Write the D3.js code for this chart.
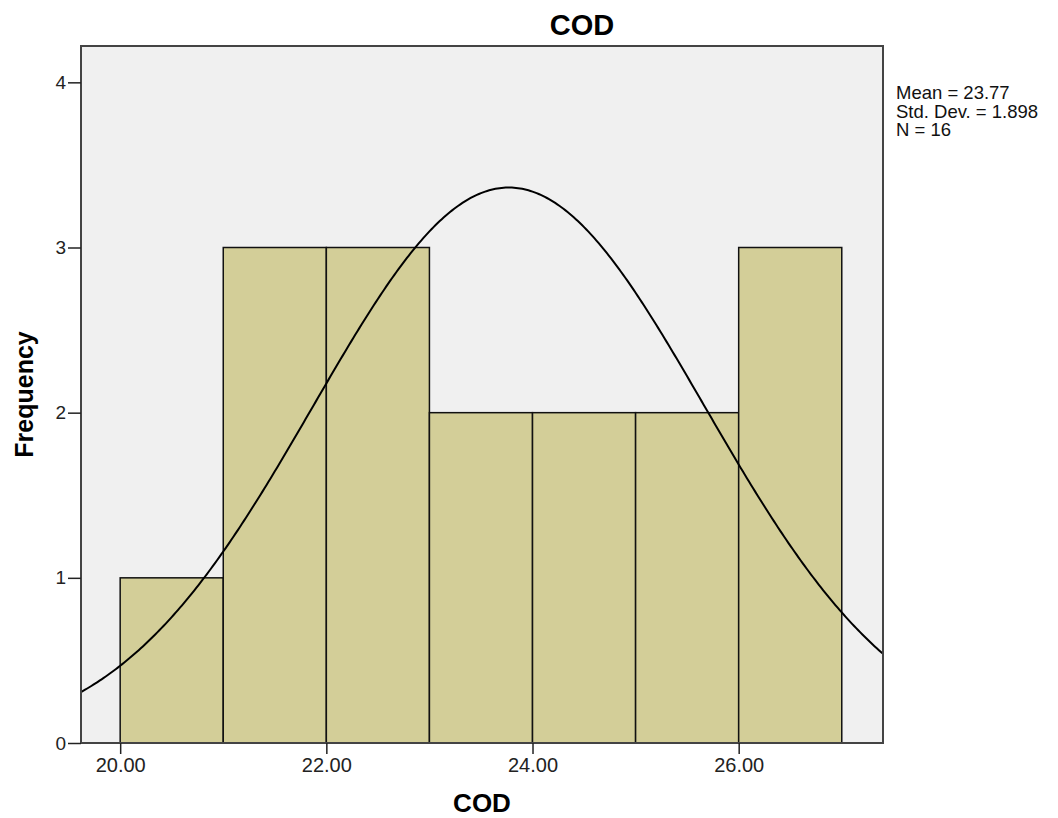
<!DOCTYPE html>
<html>
<head>
<meta charset="utf-8">
<script src="https://cdn.jsdelivr.net/npm/d3@7"></script>
<style>
  body { margin: 0; background: #fff; }
  text { font-family: "Liberation Sans", Arial, sans-serif; }
</style>
</head>
<body>
<svg id="chart" width="1058" height="818"></svg>
<script>
// histogram bins (lower edge) and counts
const binStarts = [20, 21, 22, 23, 24, 25, 26];
const counts = [1, 3, 3, 2, 2, 2, 3];
const binWidth = 1;
const xTicks = [20, 22, 24, 26];
const yTicks = [0, 1, 2, 3, 4];
const mean = 23.77;
const sd = 1.898;
const n = 16;
const statLines = ["Mean = 23.77", "Std. Dev. = 1.898", "N = 16"];

const svg = d3.select("#chart");
const margin = { top: 46, left: 81, right: 175, bottom: 75 };
const W = 1058, H = 818;

const x = d3.scaleLinear().domain([19.62, 27.40]).range([margin.left, W - margin.right]);
const y = d3.scaleLinear().domain([0, 4.22]).range([H - margin.bottom, margin.top]);

const clipId = "plotclip";
svg.append("clipPath").attr("id", clipId)
  .append("rect")
  .attr("x", x.range()[0]).attr("y", y.range()[1])
  .attr("width", x.range()[1] - x.range()[0])
  .attr("height", y.range()[0] - y.range()[1]);

// plot background
svg.append("rect")
  .attr("x", x.range()[0]).attr("y", y.range()[1])
  .attr("width", x.range()[1] - x.range()[0])
  .attr("height", y.range()[0] - y.range()[1])
  .attr("fill", "#f0f0f0");

// bars
svg.append("g")
  .selectAll("rect")
  .data(binStarts.map((b, i) => ({ b, c: counts[i] })))
  .join("rect")
  .attr("x", d => x(d.b))
  .attr("y", d => y(d.c))
  .attr("width", d => x(d.b + binWidth) - x(d.b))
  .attr("height", d => y(0) - y(d.c))
  .attr("fill", "#d3ce98")
  .attr("stroke", "#111")
  .attr("stroke-width", 1.5);

// normal curve from the reported mean / std dev
const norm = v => n * binWidth / (sd * Math.sqrt(2 * Math.PI)) * Math.exp(-0.5 * ((v - mean) / sd) ** 2);
const xs = d3.range(x.domain()[0], x.domain()[1] + 0.01, 0.02);
svg.append("path")
  .datum(xs)
  .attr("clip-path", `url(#${clipId})`)
  .attr("fill", "none")
  .attr("stroke", "#000")
  .attr("stroke-width", 2)
  .attr("d", d3.line().x(d => x(d)).y(d => y(norm(d))));

// frame
svg.append("rect")
  .attr("x", x.range()[0]).attr("y", y.range()[1])
  .attr("width", x.range()[1] - x.range()[0])
  .attr("height", y.range()[0] - y.range()[1])
  .attr("fill", "none")
  .attr("stroke", "#444")
  .attr("stroke-width", 2);

// axes
const xAxis = svg.append("g")
  .attr("transform", `translate(0,${y.range()[0]})`)
  .call(d3.axisBottom(x).tickValues(xTicks).tickFormat(d3.format(".2f")).tickSize(11).tickPadding(4));
const yAxis = svg.append("g")
  .attr("transform", `translate(${x.range()[0]},0)`)
  .call(d3.axisLeft(y).tickValues(yTicks).tickFormat(d3.format("d")).tickSize(13).tickPadding(2));
[xAxis, yAxis].forEach(a => {
  a.select(".domain").remove();
  a.selectAll("line").attr("stroke", "#222").attr("stroke-width", 1.5);
  a.selectAll("text").attr("fill", "#222")
    .style("font-family", "'Liberation Sans', Arial, sans-serif");
});
xAxis.selectAll("text").style("font-size", "20px");
yAxis.selectAll("text").style("font-size", "19px");

// titles
svg.append("text")
  .attr("x", 582).attr("y", 35)
  .attr("text-anchor", "middle")
  .style("font-size", "29px").style("font-weight", "bold")
  .text("COD");
svg.append("text")
  .attr("x", (x.range()[0] + x.range()[1]) / 2).attr("y", 812)
  .attr("text-anchor", "middle")
  .style("font-size", "26px").style("font-weight", "bold")
  .text("COD");
svg.append("text")
  .attr("transform", `translate(33,${(y.range()[0] + y.range()[1]) / 2}) rotate(-90)`)
  .attr("text-anchor", "middle")
  .style("font-size", "25px").style("font-weight", "bold")
  .text("Frequency");

// stats legend
svg.append("g")
  .selectAll("text")
  .data(statLines)
  .join("text")
  .attr("x", 896)
  .attr("y", (d, i) => 99 + i * 18.5)
  .attr("fill", "#111")
  .style("font-size", "18.5px")
  .text(d => d);
</script>
</body>
</html>
